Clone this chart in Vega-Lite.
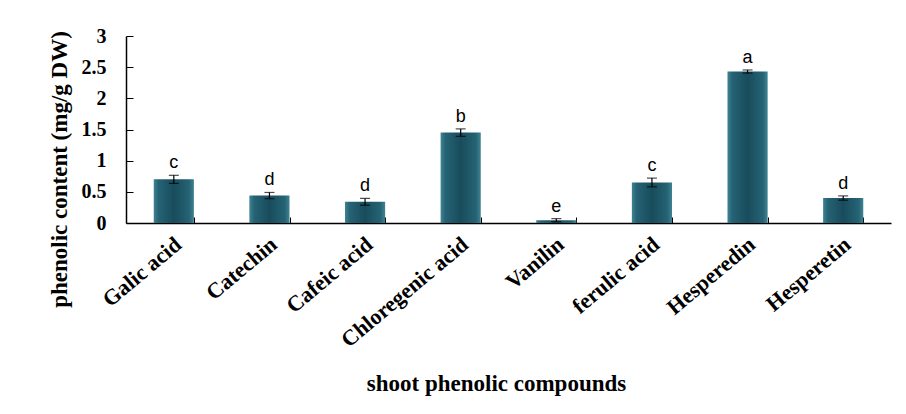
{
  "$schema": "https://vega.github.io/schema/vega-lite/v6.json",
  "autosize": "none",
  "width": 765,
  "height": 187,
  "padding": {"left": 126, "top": 36, "right": 15, "bottom": 191},
  "background": "white",
  "config": {
    "view": {"stroke": null},
    "axisY": {
      "titleFont": "Liberation Serif",
      "titleFontSize": 23,
      "titleFontWeight": "bold",
      "titleColor": "black",
      "titleAngle": -90,
      "titleBaseline": "middle",
      "titleAlign": "center",
      "labelOverlap": false,
      "labelFont": "Liberation Serif",
      "labelFontSize": 20,
      "labelFontWeight": "bold",
      "labelColor": "black",
      "tickColor": "black",
      "domainColor": "black",
      "domainWidth": 1.5,
      "grid": false
    }
  },
  "data": {
    "values": [
      {"compound": "Galic acid", "value": 0.70, "err": 0.065, "group": "c"},
      {"compound": "Catechin", "value": 0.44, "err": 0.05, "group": "d"},
      {"compound": "Cafeic acid", "value": 0.34, "err": 0.055, "group": "d"},
      {"compound": "Chloregenic acid", "value": 1.45, "err": 0.06, "group": "b"},
      {"compound": "Vanilin", "value": 0.045, "err": 0.025, "group": "e"},
      {"compound": "ferulic acid", "value": 0.65, "err": 0.07, "group": "c"},
      {"compound": "Hesperedin", "value": 2.43, "err": 0.025, "group": "a"},
      {"compound": "Hesperetin", "value": 0.40, "err": 0.035, "group": "d"}
    ]
  },
  "transform": [
    {"calculate": "datum.value - datum.err", "as": "low"},
    {"calculate": "datum.value + datum.err", "as": "high"}
  ],
  "encoding": {
    "x": {
      "field": "compound",
      "type": "nominal",
      "sort": null,
      "scale": {"paddingInner": 0.58, "paddingOuter": 0.29},
      "axis": {
        "title": "shoot phenolic compounds",
        "titleFont": "Liberation Serif",
        "titleFontSize": 23,
        "titleFontWeight": "bold",
        "titleColor": "black",
        "titleX": 370,
        "titleY": 160,
        "titleBaseline": "middle",
        "labelAngle": -40,
        "labelAlign": "right",
        "labelBaseline": "middle",
        "labelFont": "Liberation Serif",
        "labelFontSize": 22,
        "labelFontWeight": "bold",
        "labelColor": "black",
        "labelPadding": 24,
        "labelOffset": 4,
        "labelOverlap": false,
        "tickBand": "extent",
        "tickSize": -6,
        "tickColor": "black",
        "domainColor": "black",
        "domainWidth": 1.5
      }
    }
  },
  "layer": [
    {
      "mark": {
        "type": "bar",
        "color": {
          "gradient": "linear",
          "x1": 0, "y1": 0, "x2": 1, "y2": 0,
          "stops": [
            {"offset": 0, "color": "#3f8393"},
            {"offset": 0.12, "color": "#256374"},
            {"offset": 0.5, "color": "#184c5c"},
            {"offset": 0.88, "color": "#256374"},
            {"offset": 1, "color": "#3f8393"}
          ]
        }
      },
      "encoding": {
        "y": {
          "field": "value",
          "type": "quantitative",
          "scale": {"domain": [0, 3]},
          "axis": {"title": "phenolic content (mg/g DW)", "values": [0, 0.5, 1, 1.5, 2, 2.5, 3], "format": "~g", "tickSize": -7, "labelPadding": 27, "titleX": -67, "titleY": 133}
        }
      }
    },
    {
      "mark": {"type": "rule", "color": "black", "strokeWidth": 1.2},
      "encoding": {
        "y": {"field": "low", "type": "quantitative", "axis": {"title": "phenolic content (mg/g DW)", "values": [0, 0.5, 1, 1.5, 2, 2.5, 3], "format": "~g", "tickSize": -7, "labelPadding": 27, "titleX": -67, "titleY": 133}},
        "y2": {"field": "high"}
      }
    },
    {
      "mark": {"type": "tick", "color": "black", "size": 10, "thickness": 1.2},
      "encoding": {"y": {"field": "low", "type": "quantitative", "axis": {"title": "phenolic content (mg/g DW)", "values": [0, 0.5, 1, 1.5, 2, 2.5, 3], "format": "~g", "tickSize": -7, "labelPadding": 27, "titleX": -67, "titleY": 133}}}
    },
    {
      "mark": {"type": "tick", "color": "black", "size": 10, "thickness": 1.2},
      "encoding": {"y": {"field": "high", "type": "quantitative", "axis": {"title": "phenolic content (mg/g DW)", "values": [0, 0.5, 1, 1.5, 2, 2.5, 3], "format": "~g", "tickSize": -7, "labelPadding": 27, "titleX": -67, "titleY": 133}}}
    },
    {
      "mark": {"type": "text", "baseline": "bottom", "dy": -3, "font": "Liberation Sans", "fontSize": 18, "color": "black"},
      "encoding": {
        "y": {"field": "high", "type": "quantitative", "axis": {"title": "phenolic content (mg/g DW)", "values": [0, 0.5, 1, 1.5, 2, 2.5, 3], "format": "~g", "tickSize": -7, "labelPadding": 27, "titleX": -67, "titleY": 133}},
        "text": {"field": "group"}
      }
    }
  ]
}
